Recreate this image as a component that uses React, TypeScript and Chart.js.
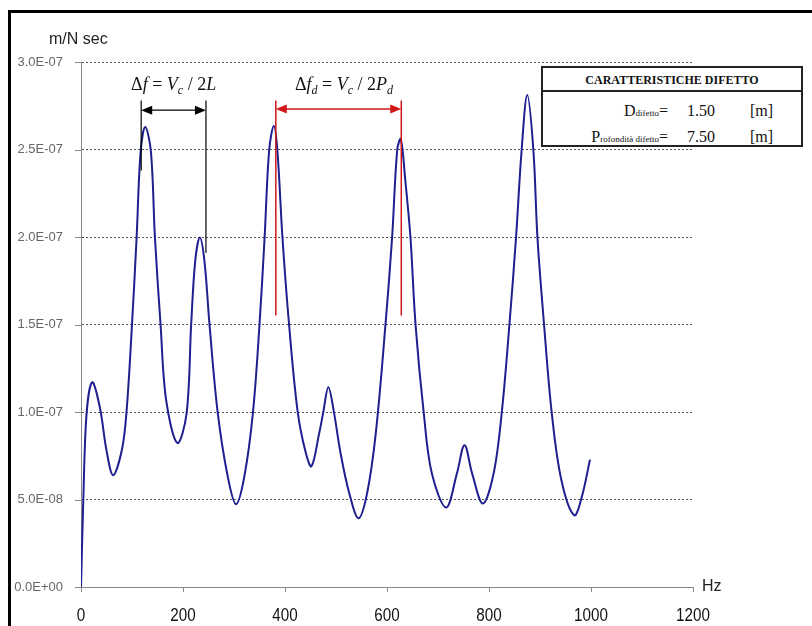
import React, { useEffect, useRef } from 'react';
import { Chart, registerables } from 'chart.js';
Chart.register(...registerables);

// ---- data ----
const freqHz = [
  0, 4.5, 11, 22, 37, 50, 63, 80, 89, 99, 109, 117, 126, 137, 145, 156, 167, 189, 207, 216,
  224, 233, 242, 252, 268, 288, 304, 320, 337, 350, 360, 369, 378, 385, 395, 408, 425, 441,
  452, 467, 475, 485, 496, 509, 526, 544, 561, 578, 597, 610, 620, 627, 636, 646, 656, 672,
  688, 716, 737, 752, 767, 788, 809, 825, 840, 853, 864, 875, 887, 895, 908, 923, 942, 967,
  982, 998,
];
const mobility = [
  0, 4.96e-8, 9.92e-8, 1.17e-7, 1.026e-7, 7.81e-8, 6.39e-8, 7.81e-8, 9.92e-8, 1.448e-7,
  1.995e-7, 2.491e-7, 2.628e-7, 2.491e-7, 1.995e-7, 1.499e-7, 1.066e-7, 8.23e-8, 9.92e-8,
  1.499e-7, 1.864e-7, 1.997e-7, 1.864e-7, 1.499e-7, 9.98e-8, 6.27e-8, 4.73e-8, 6.27e-8,
  9.92e-8, 1.499e-7, 1.997e-7, 2.497e-7, 2.634e-7, 2.497e-7, 1.997e-7, 1.499e-7, 9.98e-8,
  7.64e-8, 6.9e-8, 8.78e-8, 9.98e-8, 1.142e-7, 9.98e-8, 7.64e-8, 5.36e-8, 3.93e-8, 5.36e-8,
  8.78e-8, 1.499e-7, 1.997e-7, 2.497e-7, 2.56e-7, 2.32e-7, 1.997e-7, 1.498e-7, 9.96e-8,
  6.48e-8, 4.54e-8, 6.48e-8, 8.1e-8, 6.48e-8, 4.77e-8, 6.48e-8, 9.96e-8, 1.498e-7, 1.997e-7,
  2.497e-7, 2.811e-7, 2.497e-7, 1.997e-7, 1.498e-7, 9.96e-8, 6.1e-8, 4.1e-8, 5.15e-8, 7.28e-8,
];
const xTickLabels = ['0', '200', '400', '600', '800', '1000', '1200'];
const yTickLabels = ['0.0E+00', '5.0E-08', '1.0E-07', '1.5E-07', '2.0E-07', '2.5E-07', '3.0E-07'];
const yAxisTitle = 'm/N sec';
const xAxisTitle = 'Hz';

// annotation markers (data units)
const blackMarkerHz = [118, 245];
const blackMarkerBottom = [2.38e-7, 1.91e-7];
const redMarkerHz = [382, 628];
const redMarkerBottom = [1.551e-7, 1.551e-7];
const markerTop = 2.78e-7;
const arrowLevel = [2.725e-7, 2.731e-7];
const formulaCenterHz = [181.6, 515.6];
const formulaBaseline = 2.842e-7;
type Seg = { t: string; i?: boolean; sub?: boolean };
const formulaBlack: Seg[] = [
  { t: 'Δ' }, { t: 'f', i: true }, { t: ' = ' }, { t: 'V', i: true }, { t: 'c', i: true, sub: true },
  { t: ' / 2' }, { t: 'L', i: true },
];
const formulaRed: Seg[] = [
  { t: 'Δ' }, { t: 'f', i: true }, { t: 'd', i: true, sub: true }, { t: ' = ' }, { t: 'V', i: true },
  { t: 'c', i: true, sub: true }, { t: ' / 2' }, { t: 'P', i: true }, { t: 'd', i: true, sub: true },
];

// table texts
const tableTitle = 'CARATTERISTICHE DIFETTO';
const tableRows = [
  { big: 'D', small: 'difetto', value: '1.50', unit: '[m]' },
  { big: 'P', small: 'rofondità difetto', value: '7.50', unit: '[m]' },
];

const SERIF = '"Liberation Serif", "Times New Roman", serif';
const SANS = '"Liberation Sans", Arial, sans-serif';

function drawRich(ctx: CanvasRenderingContext2D, segs: Seg[], cx: number, by: number, size: number, color: string) {
  const fontOf = (s: Seg) => `${s.i ? 'italic ' : ''}${s.sub ? Math.round(size * 0.68) : size}px ${SERIF}`;
  let total = 0;
  const widths = segs.map((s) => {
    ctx.font = fontOf(s);
    const w = ctx.measureText(s.t).width;
    total += w;
    return w;
  });
  let x = cx - total / 2;
  ctx.fillStyle = color;
  ctx.textAlign = 'left';
  ctx.textBaseline = 'alphabetic';
  segs.forEach((s, k) => {
    ctx.font = fontOf(s);
    ctx.fillText(s.t, x, by + (s.sub ? size * 0.22 : 0));
    x += widths[k];
  });
}

function arrowHead(ctx: CanvasRenderingContext2D, tipX: number, y: number, dir: number, color: string) {
  ctx.fillStyle = color;
  ctx.beginPath();
  ctx.moveTo(tipX, y);
  ctx.lineTo(tipX - dir * 11, y - 4.5);
  ctx.lineTo(tipX - dir * 11, y + 4.5);
  ctx.closePath();
  ctx.fill();
}

const extrasPlugin = {
  id: 'extras',
  afterDraw(chart: any) {
    const { ctx, chartArea } = chart;
    const x = chart.scales.x;
    const y = chart.scales.y;
    ctx.save();
    // y tick marks
    ctx.strokeStyle = '#888';
    ctx.lineWidth = 1;
    yTickLabels.forEach((_, i) => {
      const py = Math.round(y.getPixelForValue(i * 5e-8)) + 0.5;
      ctx.beginPath();
      ctx.moveTo(chartArea.left - 6, py);
      ctx.lineTo(chartArea.left, py);
      ctx.stroke();
    });
    // x tick labels (condensed)
    ctx.fillStyle = '#111';
    ctx.font = `19px ${SANS}`;
    ctx.textAlign = 'center';
    ctx.textBaseline = 'middle';
    x.ticks.forEach((t: any, i: number) => {
      const px = x.getPixelForValue(t.value);
      ctx.save();
      ctx.translate(px, chartArea.bottom + 29);
      ctx.scale(0.8, 1);
      ctx.fillText(xTickLabels[i], 0, 0);
      ctx.restore();
    });
    // axis titles
    ctx.fillStyle = '#222';
    ctx.font = `16px ${SANS}`;
    ctx.textAlign = 'left';
    ctx.textBaseline = 'middle';
    ctx.fillText(yAxisTitle, chartArea.left - 32, chartArea.top - 22);
    ctx.fillText(xAxisTitle, chartArea.right + 9, chartArea.bottom);

    // markers
    const drawMarker = (hz: number[], bottoms: number[], level: number, color: string, w: number) => {
      const top = y.getPixelForValue(markerTop);
      const ay = y.getPixelForValue(level);
      const xs = hz.map((h) => x.getPixelForValue(h));
      ctx.strokeStyle = color;
      ctx.lineWidth = w;
      xs.forEach((px, k) => {
        ctx.beginPath();
        ctx.moveTo(px, top);
        ctx.lineTo(px, y.getPixelForValue(bottoms[k]));
        ctx.stroke();
      });
      ctx.beginPath();
      ctx.moveTo(xs[0] + 8, ay);
      ctx.lineTo(xs[1] - 8, ay);
      ctx.stroke();
      arrowHead(ctx, xs[0], ay, -1, color);
      arrowHead(ctx, xs[1], ay, 1, color);
    };
    drawMarker(blackMarkerHz, blackMarkerBottom, arrowLevel[0], '#000', 1.2);
    drawMarker(redMarkerHz, redMarkerBottom, arrowLevel[1], '#d01818', 1.5);

    const by = y.getPixelForValue(formulaBaseline);
    drawRich(ctx, formulaBlack, x.getPixelForValue(formulaCenterHz[0]), by, 18, '#111');
    drawRich(ctx, formulaRed, x.getPixelForValue(formulaCenterHz[1]), by, 18, '#111');
    ctx.restore();
  },
};

export default function App() {
  const ref = useRef<HTMLCanvasElement | null>(null);
  useEffect(() => {
    if (!ref.current) return;
    const points = freqHz.map((f, i) => ({ x: f, y: mobility[i] }));
    const chart = new Chart(ref.current, {
      type: 'line',
      data: {
        datasets: [
          {
            data: points,
            borderColor: '#1f1f8f',
            borderWidth: 2,
            pointRadius: 0,
            fill: false,
            tension: 0.35,
          },
        ],
      },
      options: {
        responsive: false,
        animation: false,
        layout: { padding: { top: 62, right: 119, bottom: 0, left: 0 } },
        plugins: { legend: { display: false }, tooltip: { enabled: false } },
        scales: {
          x: {
            type: 'linear',
            min: 0,
            max: 1200,
            ticks: {
              stepSize: 200,
              display: false,
              maxRotation: 0,
            },
            grid: { drawOnChartArea: false, drawTicks: true, tickLength: 5, color: '#888' },
            border: { display: true, color: '#888', width: 1 },
            afterFit: (s: any) => {
              s.height = 39;
            },
          },
          y: {
            min: 0,
            max: 3e-7,
            ticks: {
              stepSize: 5e-8,
              padding: 18,
              color: '#666',
              font: { family: SANS, size: 13 },
              callback: (_v: any, i: number) => yTickLabels[i],
            },
            grid: {
              drawTicks: false,
              color: (c: any) => (c.index === 0 ? 'rgba(0,0,0,0)' : '#555'),
              lineWidth: 1,
            },
            border: { display: true, color: '#888', width: 1, dash: [2, 2] },
            afterFit: (s: any) => {
              s.width = 81;
            },
          },
        },
      } as any,
      plugins: [extrasPlugin],
    });
    return () => chart.destroy();
  }, []);

  const rowBaselineTop = [102.6, 128.6];
  return (
    <>
      <canvas ref={ref} width={812} height={626} style={{ position: 'absolute', left: 0, top: 0 }} />
      <div
        style={{
          position: 'absolute',
          left: 8,
          top: 10,
          width: 804,
          height: 616,
          boxSizing: 'border-box',
          borderLeft: '3px solid #000',
          borderTop: '3px solid #000',
          pointerEvents: 'none',
        }}
      />
      <div
        style={{
          position: 'absolute',
          left: 541,
          top: 66,
          width: 262,
          height: 81,
          boxSizing: 'border-box',
          border: '2px solid #222',
          background: '#fff',
          fontFamily: SERIF,
          color: '#111',
        }}
      >
        <div
          style={{
            height: 24,
            borderBottom: '2px solid #222',
            boxSizing: 'border-box',
            textAlign: 'center',
            fontWeight: 'bold',
            fontSize: 12,
            lineHeight: '24px',
          }}
        >
          {tableTitle}
        </div>
      </div>
      {tableRows.map((r, k) => (
        <React.Fragment key={k}>
          <div
            style={{
              position: 'absolute',
              left: 541,
              width: 127,
              top: rowBaselineTop[k],
              textAlign: 'right',
              fontFamily: SERIF,
              fontSize: 16,
              lineHeight: '16px',
              whiteSpace: 'nowrap',
              color: '#111',
            }}
          >
            {r.big}
            <span style={{ fontSize: 9 }}>{r.small}</span>=
          </div>
          <div
            style={{
              position: 'absolute',
              left: 687,
              top: rowBaselineTop[k],
              fontFamily: SERIF,
              fontSize: 16,
              lineHeight: '16px',
              color: '#111',
            }}
          >
            {r.value}
          </div>
          <div
            style={{
              position: 'absolute',
              left: 750,
              top: rowBaselineTop[k],
              fontFamily: SERIF,
              fontSize: 16,
              lineHeight: '16px',
              color: '#111',
            }}
          >
            {r.unit}
          </div>
        </React.Fragment>
      ))}
    </>
  );
}
